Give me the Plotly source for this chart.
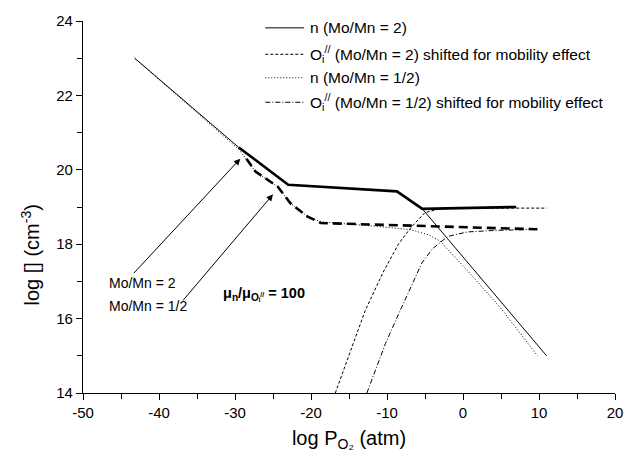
import plotly.graph_objects as go

# ---------------- data ----------------
# n (Mo/Mn = 2), thin solid
n2_x = [-43.2, -29.5, -23.0, -8.7, -5.35, 11.0]
n2_y = [23.0, 20.6, 19.6, 19.42, 18.95, 15.0]

# thick solid overlap segment (Mo/Mn = 2)
thick2_x = [-29.5, -23.0, -8.7, -5.35, 7.0]
thick2_y = [20.6, 19.6, 19.42, 18.95, 19.0]

# O_i'' (Mo/Mn = 2) shifted, dashed
o2_x = [-16.8, -14.5, -12.9, -10.5, -8.5, -6.85, -5.0, -3.0, 0.0, 11.0]
o2_y = [14.0, 15.3, 16.2, 17.25, 18.0, 18.45, 18.85, 18.95, 18.97, 18.97]

# n (Mo/Mn = 1/2), dotted
nh_x = [-43.2, -29.5, -27.3, -24.4, -22.7, -20.5, -18.7, -15.0, -11.3, -6.9, -4.5, -3.0, 0.0, 4.9, 9.8]
nh_y = [23.0, 20.55, 19.95, 19.55, 19.1, 18.75, 18.6, 18.55, 18.48, 18.39, 18.25, 18.08, 17.42, 16.3, 15.0]

# O_i'' (Mo/Mn = 1/2) shifted, dash-dot
oh_x = [-12.65, -10.2, -8.46, -6.7, -5.4, -4.0, -2.0, 0.6, 4.1, 9.8]
oh_y = [14.0, 15.33, 16.13, 16.93, 17.5, 17.88, 18.21, 18.33, 18.37, 18.4]

# thick dashed overlap segment (Mo/Mn = 1/2)
thickh_x = [-28.5, -27.3, -24.4, -22.7, -20.5, -18.7, -12.1, 9.8]
thickh_y = [20.3, 19.95, 19.55, 19.1, 18.75, 18.57, 18.53, 18.4]

legend_labels = [
    "n (Mo/Mn = 2)",
    "O<sub>i</sub><sup>//</sup> (Mo/Mn = 2) shifted for mobility effect",
    "n (Mo/Mn = 1/2)",
    "O<sub>i</sub><sup>//</sup> (Mo/Mn = 1/2) shifted for mobility effect",
]
x_ticks = [-50, -40, -30, -20, -10, 0, 10, 20]
x_ticktext = ["-50", "-40", "-30", "-20", "-10", "0", "10", "20"]
y_ticks = [14, 16, 18, 20, 22, 24]
y_ticktext = ["14", "16", "18", "20", "22", "24"]

FONT = "Liberation Sans, Arial, Helvetica, sans-serif"

fig = go.Figure()
fig.add_trace(go.Scatter(x=n2_x, y=n2_y, mode="lines",
                         line=dict(color="black", width=1), showlegend=False))
fig.add_trace(go.Scatter(x=thick2_x, y=thick2_y, mode="lines",
                         line=dict(color="black", width=2.6), showlegend=False))
fig.add_trace(go.Scatter(x=o2_x, y=o2_y, mode="lines",
                         line=dict(color="black", width=1, dash="3px,2px"), showlegend=False))
fig.add_trace(go.Scatter(x=nh_x, y=nh_y, mode="lines",
                         line=dict(color="black", width=1, dash="1px,2px"), showlegend=False))
fig.add_trace(go.Scatter(x=oh_x, y=oh_y, mode="lines",
                         line=dict(color="black", width=1, dash="5px,2px,1px,2px"), showlegend=False))
fig.add_trace(go.Scatter(x=thickh_x, y=thickh_y, mode="lines",
                         line=dict(color="black", width=2.6, dash="9px,5px"), showlegend=False))

# manual legend
L, R, T, B = 83, 620, 13, 393
def px(xp):
    return (xp - L) / (R - L)
def py(yp):
    return (B - yp) / (B - T)

leg_y = [20, 47, 71, 96]
leg_dash = ["solid", "3px,2px", "1px,2px", "5px,2px,1px,2px"]
shapes = []
annotations = []
for yy, dsh, lab in zip(leg_y, leg_dash, legend_labels):
    shapes.append(dict(type="line", xref="paper", yref="paper",
                       x0=px(267), x1=px(306), y0=py(yy), y1=py(yy),
                       line=dict(color="black", width=1, dash=dsh)))
    annotations.append(dict(xref="paper", yref="paper", x=px(310), y=py(yy),
                            text=lab, showarrow=False, xanchor="left", yanchor="middle",
                            font=dict(family=FONT, size=15.5, color="black")))

# arrows
annotations.append(dict(x=-29.3, y=20.3, ax=-43.5, ay=17.18, xref="x", yref="y",
                        axref="x", ayref="y", text="", showarrow=True,
                        arrowhead=2, arrowsize=1.3, arrowwidth=1, arrowcolor="black"))
annotations.append(dict(x=-25.0, y=19.34, ax=-37.0, ay=16.45, xref="x", yref="y",
                        axref="x", ayref="y", text="", showarrow=True,
                        arrowhead=2, arrowsize=1.3, arrowwidth=1, arrowcolor="black"))
annotations.append(dict(x=-46.8, y=16.95, xref="x", yref="y", text="Mo/Mn = 2",
                        showarrow=False, xanchor="left", yanchor="middle",
                        font=dict(family=FONT, size=14, color="black")))
annotations.append(dict(x=-46.8, y=16.35, xref="x", yref="y", text="Mo/Mn = 1/2",
                        showarrow=False, xanchor="left", yanchor="middle",
                        font=dict(family=FONT, size=14, color="black")))
annotations.append(dict(x=-31.8, y=16.65, xref="x", yref="y",
                        text="<b>μ<sub>n</sub>/μ<sub>Oᵢ<sup>//</sup></sub> = 100</b>",
                        showarrow=False, xanchor="left", yanchor="middle",
                        font=dict(family=FONT, size=14.5, color="black")))
# y-axis title as annotation (sits below the axis centre in the reference)
annotations.append(dict(xref="paper", yref="paper", x=px(30), y=py(252),
                        text="log [] (cm<sup>-3</sup>)", textangle=-90, showarrow=False,
                        xanchor="center", yanchor="middle",
                        font=dict(family=FONT, size=20, color="black")))

fig.update_layout(
    width=635, height=460,
    margin=dict(l=L, r=635 - R, t=T, b=460 - B),
    paper_bgcolor="white", plot_bgcolor="white",
    font=dict(family=FONT, color="black", size=14),
    shapes=shapes, annotations=annotations,
    xaxis=dict(range=[-50, 20], tickvals=x_ticks, ticktext=x_ticktext,
               ticks="outside", ticklen=6,
               tickwidth=1, tickcolor="black", showline=True, linecolor="black",
               linewidth=1.3, showgrid=False, zeroline=False,
               minor=dict(dtick=5, ticks="outside", ticklen=5, tickcolor="black", tickwidth=1),
               tickfont=dict(family=FONT, size=15),
               title=dict(text="log P<sub>O₂</sub> (atm)", font=dict(family=FONT, size=20),
                          standoff=10)),
    yaxis=dict(range=[14, 24], tickvals=y_ticks, ticktext=y_ticktext,
               ticks="outside", ticklen=6,
               tickwidth=1, tickcolor="black", showline=True, linecolor="black",
               linewidth=1.3, showgrid=False, zeroline=False,
               minor=dict(dtick=1, ticks="outside", ticklen=5, tickcolor="black", tickwidth=1),
               tickfont=dict(family=FONT, size=15)),
)

fig.write_html("out.html")
